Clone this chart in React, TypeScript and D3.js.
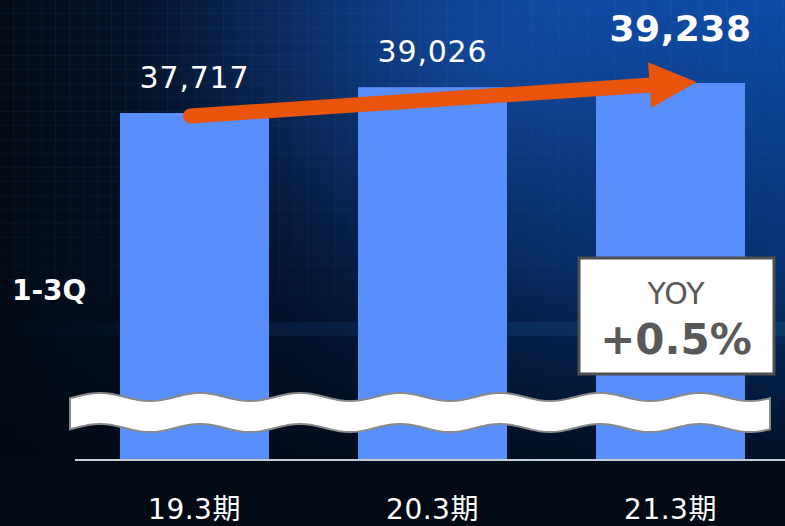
import React from "react";
import * as d3 from "d3";

const categories = ["19.3期", "20.3期", "21.3期"];
const values = [37717, 39026, 39238];
const valueLabels = ["37,717", "39,026", "39,238"];
const yoyTitle = "YOY";
const yoyValue = "+0.5%";
const rowLabel = "1-3Q";

const W = 785;
const H = 526;

export default function App() {
  if (typeof document !== "undefined") document.body.style.margin = "0";
  const x = d3
    .scaleBand<string>()
    .domain(categories)
    .range([75.5, 789.5])
    .paddingInner(0.374)
    .paddingOuter(0.187);
  const y = d3.scaleLinear().domain([20124, 39238]).range([460, 83]);
  const bw = x.bandwidth();

  const waveTop = (px: number) => 397 + 4 * Math.sin(((px - 75) / 100) * 2 * Math.PI + Math.PI);
  const xs = d3.range(70, 771, 2);
  const topPts = xs.map((px) => [px, waveTop(px)] as [number, number]);
  const botPts = xs
    .slice()
    .reverse()
    .map((px) => [px, waveTop(px) + 31] as [number, number]);
  const wavePath = d3.line()([...topPts, ...botPts]) + "Z";

  const font = "'DejaVu Sans', 'Noto Sans CJK JP', sans-serif";

  const c0 = x(categories[0])! + bw / 2;
  const c2 = x(categories[2])! + bw / 2;
  const start: [number, number] = [c0 - 4, y(values[0]) + 3];
  const tip: [number, number] = [c2 + 26, y(values[2]) - 1];
  const ang = Math.atan2(tip[1] - start[1], tip[0] - start[0]);
  const headLen = 47;
  const headHalf = 23;
  const bx = tip[0] - headLen * Math.cos(ang);
  const by = tip[1] - headLen * Math.sin(ang);
  const nx = -Math.sin(ang);
  const ny = Math.cos(ang);
  const head = `M${tip[0]},${tip[1]}L${bx + nx * headHalf},${by + ny * headHalf}L${bx - nx * headHalf},${by - ny * headHalf}Z`;

  return (
    <svg width={W} height={H} style={{ position: "absolute", left: 0, top: 0, display: "block" }}>
      <defs>
        <linearGradient id="bgH" x1="0" y1="0" x2="1" y2="0">
          <stop offset="0" stopColor="#030c18" />
          <stop offset="0.35" stopColor="#061b40" />
          <stop offset="0.7" stopColor="#0a3d8a" />
          <stop offset="1" stopColor="#0b4aa6" />
        </linearGradient>
        <linearGradient id="bgV" x1="0" y1="0" x2="0" y2="1">
          <stop offset="0" stopColor="#000000" stopOpacity="0" />
          <stop offset="0.5" stopColor="#000814" stopOpacity="0.35" />
          <stop offset="0.85" stopColor="#000814" stopOpacity="0.85" />
          <stop offset="1" stopColor="#000810" stopOpacity="0.95" />
        </linearGradient>
        <radialGradient id="glow" cx="0.62" cy="0.12" r="0.45">
          <stop offset="0" stopColor="#1a5cc4" stopOpacity="0.6" />
          <stop offset="1" stopColor="#1a5cc4" stopOpacity="0" />
        </radialGradient>
        <linearGradient id="streak" x1="0" y1="0" x2="1" y2="0">
          <stop offset="0" stopColor="#1f6fd0" stopOpacity="0" />
          <stop offset="0.5" stopColor="#1f6fd0" stopOpacity="0.35" />
          <stop offset="1" stopColor="#1f8fe0" stopOpacity="0.5" />
        </linearGradient>
        <pattern id="grid" width="14" height="14" patternUnits="userSpaceOnUse">
          <path d="M14,0V14M0,14H14" stroke="#4a86d8" strokeOpacity="0.15" strokeWidth="1" fill="none" />
        </pattern>
      </defs>
      <rect width={W} height={H} fill="url(#bgH)" />
      <rect width={W} height={H} fill="url(#glow)" />
      <rect width={W} height={300} fill="url(#grid)" />
      <rect x={0} y={322} width={W} height={14} fill="url(#streak)" />
      <rect width={W} height={H} fill="url(#bgV)" />
      <rect x={0} y={462} width={W} height={H - 462} fill="#020a14" opacity={0.85} />

      {categories.map((c, i) => (
        <rect key={c} x={x(c)} y={y(values[i])} width={bw} height={y.range()[0] - y(values[i])} fill="#598EFD" />
      ))}

      <line x1={75} x2={W} y1={460} y2={460} stroke="#c8ccd4" strokeWidth={2} />

      <path d={wavePath} fill="#ffffff" stroke="#8a8a8a" strokeWidth={2} />

      {categories.map((c, i) => (
        <text
          key={"l" + c}
          x={x(c)! + bw / 2 + (i === 2 ? 10 : 0)}
          y={i === 2 ? 41 : y(values[i]) - 25}
          textAnchor="middle"
          fill="#ffffff"
          fontFamily={font}
          fontSize={i === 2 ? 36 : 30}
          fontWeight={i === 2 ? "bold" : "normal"}
          letterSpacing={i === 2 ? 0.5 : 0.8}
        >
          {valueLabels[i]}
        </text>
      ))}

      <line
        x1={start[0]}
        y1={start[1]}
        x2={bx + 2 * Math.cos(ang)}
        y2={by + 2 * Math.sin(ang)}
        stroke="#E8540A"
        strokeWidth={15}
        strokeLinecap="round"
      />
      <path d={head} fill="#E8540A" />

      {categories.map((c) => (
        <text
          key={"x" + c}
          x={x(c)! + bw / 2}
          y={519}
          textAnchor="middle"
          fill="#ffffff"
          fontFamily={font}
          fontSize={28}
          letterSpacing={0.5}
        >
          {c}
        </text>
      ))}

      <text x={12} y={300} fill="#ffffff" fontFamily={font} fontSize={28} fontWeight="bold">
        {rowLabel}
      </text>

      <rect x={579} y={258} width={195} height={116} fill="#ffffff" stroke="#4f4f4f" strokeWidth={3} />
      <text x={676} y={304} textAnchor="middle" fill="#595959" fontFamily={font} fontSize={30}>
        {yoyTitle}
      </text>
      <text x={676} y={354} textAnchor="middle" fill="#595959" fontFamily={font} fontSize={42} fontWeight="bold">
        {yoyValue}
      </text>
    </svg>
  );
}
